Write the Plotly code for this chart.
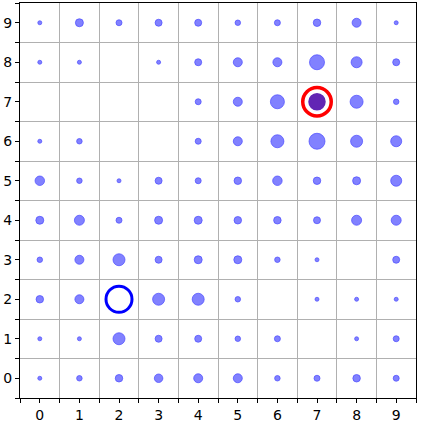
import plotly.graph_objects as go

# grid positions
xs = list(range(10))
ys = list(range(10))

# dot diameters (px), one list per row, 0 = empty cell
row_9 = [4, 8, 6, 7, 7, 5.5, 6, 7.5, 9, 4]
row_8 = [4, 4, 0, 4, 7, 9, 9, 15, 11, 7]
row_7 = [0, 0, 0, 0, 6, 9, 14, 0, 13, 5.5]
row_6 = [4, 5.5, 0, 0, 6, 9, 13, 16, 12, 11]
row_5 = [9.5, 5.5, 4, 7, 6, 7.5, 9.5, 7.5, 8, 11]
row_4 = [8, 10, 6, 8, 8, 7.5, 7.5, 7, 10, 10]
row_3 = [5.5, 9, 12, 7, 8, 8, 5.5, 4, 0, 7]
row_2 = [7.5, 9, 0, 12, 12, 5.5, 0, 4, 4, 4]
row_1 = [4, 4, 12, 7, 7, 5.5, 6, 0, 4, 6]
row_0 = [4, 5.5, 7.5, 8.5, 9, 9, 5.5, 6, 7.5, 6]
rows = [row_0, row_1, row_2, row_3, row_4, row_5, row_6, row_7, row_8, row_9]

# highlighted cells
start_cell = (2, 2)
goal_cell = (7, 7)

px, py, ps = [], [], []
for y, row in zip(ys, rows):
    for x, s in zip(xs, row):
        if s > 0:
            px.append(x)
            py.append(y)
            ps.append(s)

fig = go.Figure()
fig.add_trace(go.Scatter(
    x=px, y=py, mode="markers",
    marker=dict(size=ps, color="rgba(0,0,255,0.7)",
                line=dict(color="rgba(0,0,255,0.7)", width=1)),
    hoverinfo="skip",
))
# start: hollow blue ring
fig.add_trace(go.Scatter(
    x=[start_cell[0]], y=[start_cell[1]], mode="markers",
    marker=dict(size=26, color="rgba(0,0,0,0)",
                line=dict(color="#0000ff", width=3)),
))
# goal: purple dot inside a red ring
fig.add_trace(go.Scatter(
    x=[goal_cell[0]], y=[goal_cell[1]], mode="markers",
    marker=dict(size=19, color="#6226b4", line=dict(color="white", width=1.5)),
))
fig.add_trace(go.Scatter(
    x=[goal_cell[0]], y=[goal_cell[1]], mode="markers",
    marker=dict(size=28.5, color="rgba(0,0,0,0)",
                line=dict(color="#ff0000", width=3.5)),
))

half = [v - 0.5 for v in range(11)]
axis = dict(
    range=[-0.5, 9.5], tickvals=xs, ticks="outside", ticklen=4,
    tickcolor="black", showgrid=False, zeroline=False, automargin=False,
    showline=True, mirror=True, linecolor="black", linewidth=1,
    tickfont=dict(family="DejaVu Sans", size=14, color="black"),
    minor=dict(tickvals=half, ticks="outside", ticklen=4, tickcolor="black",
               showgrid=True, gridcolor="#b0b0b0", gridwidth=1.3),
)
fig.update_xaxes(**axis)
fig.update_yaxes(**axis)
fig.update_layout(
    width=422, height=423, showlegend=False,
    margin=dict(l=20, r=6, t=3, b=25),
    plot_bgcolor="white", paper_bgcolor="white",
)
# drop the page's default body margin so the figure sits at the corner
fig.write_html("out.html", config={"displayModeBar": False},
               post_script="document.body.style.margin='0';")
